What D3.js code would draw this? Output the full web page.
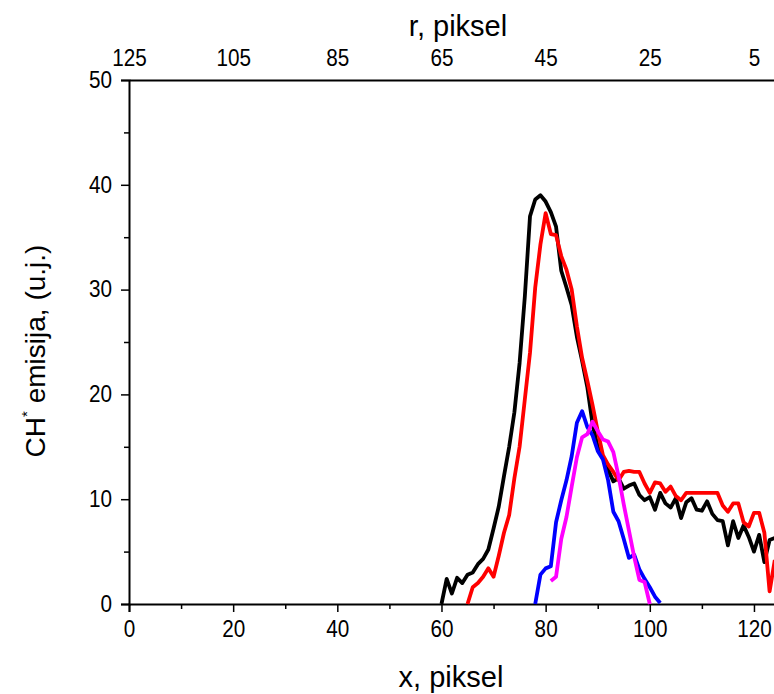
<!DOCTYPE html>
<html>
<head>
<meta charset="utf-8">
<script src="https://cdn.jsdelivr.net/npm/d3@7"></script>
<style>
  html, body { margin: 0; padding: 0; background: #fff; }
  svg { display: block; }
  text { font-family: "Liberation Sans", Arial, sans-serif; fill: #000; }
</style>
</head>
<body>
<svg id="chart" width="774" height="694"></svg>
<script>
// ---- data ----
const blackX = [60,61,62,63,64,65,66,67,68,69,70,71,72,73,74,75,76,77,78,79,80,81,82,83,84,85,86,87,88,89,90,91,92,93,94,95,96,97,98,99,100,101,102,103,104,105,106,107,108,109,110,111,112,113,114,115,116,117,118,119,120,121,122,123,124];
const blackY = [0,2.4,1.0,2.5,2.0,2.8,3.0,3.8,4.3,5.2,7.2,9.3,12.2,15.0,18.3,23.0,29.3,37.0,38.6,39.0,38.4,37.4,36.0,31.8,30.2,28.5,25.5,23.2,20.7,17.2,15.0,13.9,12.8,11.7,12.0,11.0,11.3,11.5,10.4,9.9,10.2,9.0,10.6,9.6,9.2,10.1,8.2,9.7,10.1,9.0,8.9,9.8,8.6,8.0,7.9,5.6,7.9,6.3,7.5,6.4,5.0,6.6,4.0,6.1,6.3];

const redX = [65,66,67,68,69,70,71,72,73,74,75,76,77,78,79,80,81,82,83,84,85,86,87,88,89,90,91,92,93,94,95,96,97,98,99,100,101,102,103,104,105,106,107,108,109,110,111,112,113,114,115,116,117,118,119,120,121,122,123,124];
const redY = [0,1.6,2.0,2.6,3.4,2.6,4.6,6.8,8.5,12.0,15.0,19.5,24.0,30.2,34.3,37.3,35.3,35.2,33.2,31.9,30.0,26.5,23.5,21.3,19.0,16.5,14.2,13.3,12.6,11.8,12.6,12.7,12.6,12.6,11.5,10.6,11.6,11.5,10.7,11.2,10.3,9.9,10.6,10.6,10.6,10.6,10.6,10.6,10.6,9.4,8.8,9.6,9.6,7.8,7.4,8.7,8.7,6.8,1.2,4.2];

const blueX = [78,79,80,81,82,83,84,85,86,87,88,89,90,91,92,93,94,95,96,97,98,99,100,101,102];
const blueY = [0,2.8,3.4,3.6,7.8,9.9,11.8,14.1,17.3,18.4,16.9,16.1,14.6,13.8,11.8,8.8,7.9,6.2,4.4,4.7,3.3,2.4,1.6,0.7,0.1];

const magentaX = [81,82,83,84,85,86,87,88,89,90,91,92,93,94,95,96,97,98,99,100];
const magentaY = [2.2,2.6,6.2,8.3,11.2,14.0,15.9,16.2,17.4,16.5,15.7,15.5,14.5,12.2,9.5,7.0,4.5,2.3,2.1,0];

const xMajorTicks = [0,20,40,60,80,100,120];
const xMinorTicks = [10,30,50,70,90,110];
const yMajorTicks = [0,10,20,30,40,50];
const yMinorTicks = [5,15,25,35,45];
const rTickLabels = [125,105,85,65,45,25,5];

const seriesList = [
  {x: blackX, y: blackY, color: "#000000"},
  {x: redX, y: redY, color: "#ff0000"},
  {x: blueX, y: blueY, color: "#0000ff"},
  {x: magentaX, y: magentaY, color: "#ff00ff"}
];

// ---- layout ----
const svg = d3.select("#chart");
const mLeft = 129, mRight = 780, mTop = 80, mBottom = 604;
const x = d3.scaleLinear().domain([0, 125]).range([mLeft, mRight]);
const r = d3.scaleLinear().domain([125, 0]).range([mLeft, mRight]);
const y = d3.scaleLinear().domain([0, 50]).range([mBottom, mTop]);

const tickFont = 23;
const squeeze = "scale(0.9,1)";

// bottom axis
const gx = svg.append("g").attr("transform", `translate(0,${mBottom})`);
gx.call(d3.axisBottom(x).tickValues(xMajorTicks).tickSize(8).tickPadding(9).tickFormat(d3.format("d")));
const gxm = svg.append("g").attr("transform", `translate(0,${mBottom})`);
gxm.call(d3.axisBottom(x).tickValues(xMinorTicks).tickSize(5).tickFormat(""));
gxm.select(".domain").remove();

// left axis
const gy = svg.append("g").attr("transform", `translate(${mLeft},0)`);
gy.call(d3.axisLeft(y).tickValues(yMajorTicks).tickSize(8).tickPadding(11).tickFormat(d3.format("d")));
const gym = svg.append("g").attr("transform", `translate(${mLeft},0)`);
gym.call(d3.axisLeft(y).tickValues(yMinorTicks).tickSize(5).tickFormat(""));
gym.select(".domain").remove();

// top axis (r)
const gt = svg.append("g").attr("transform", `translate(0,${mTop})`);
gt.call(d3.axisTop(r).tickValues(rTickLabels).tickSize(0).tickPadding(14).tickFormat(d3.format("d")));

[gx, gxm, gy, gym, gt].forEach(g => {
  g.selectAll(".domain").attr("stroke", "#000").attr("stroke-width", 2);
  g.selectAll(".tick line").attr("stroke", "#000").attr("stroke-width", 1.5);
  g.selectAll(".tick text").attr("font-size", tickFont)
    .attr("font-family", '"Liberation Sans", Arial, sans-serif')
    .attr("transform", squeeze);
});

// lines
const line = d3.line().x(d => x(d[0])).y(d => y(d[1]));
seriesList.forEach(s => {
  const pts = s.x.map((xv, i) => [xv, s.y[i]]);
  svg.append("path")
    .datum(pts)
    .attr("d", line)
    .attr("fill", "none")
    .attr("stroke", s.color)
    .attr("stroke-width", 3.8)
    .attr("stroke-linejoin", "round");
});

// axis titles
svg.append("text").attr("x", 451).attr("y", 687).attr("text-anchor", "middle")
  .attr("font-size", 29).text("x, piksel");
svg.append("text").attr("x", 458).attr("y", 36).attr("text-anchor", "middle")
  .attr("font-size", 29).text("r, piksel");
const yt = svg.append("text").attr("transform", "translate(45,351) rotate(-90)")
  .attr("text-anchor", "middle").attr("font-size", 28);
yt.append("tspan").text("CH");
yt.append("tspan").attr("font-size", 15).attr("dy", -13).text("*");
yt.append("tspan").attr("dy", 13).text(" emisija, (u.j.)");
</script>
</body>
</html>
